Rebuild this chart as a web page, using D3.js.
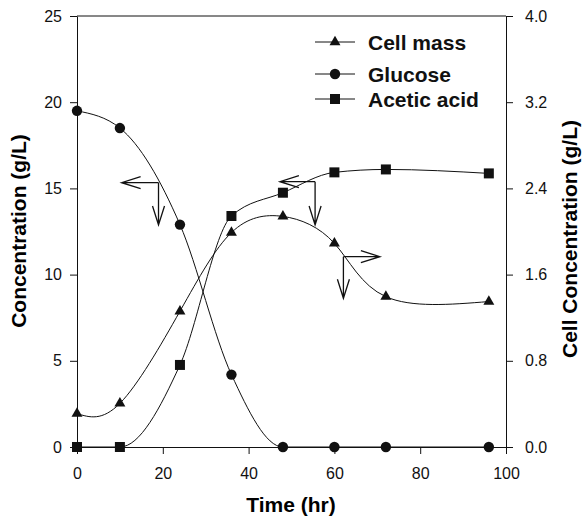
<!DOCTYPE html>
<html>
<head>
<meta charset="utf-8">
<script src="https://cdn.jsdelivr.net/npm/d3@7"></script>
<style>
    body { margin: 0; background: #fff; }
    svg { display: block; font-family: Arial, "Liberation Sans", sans-serif; }
</style>
</head>
<body>
<svg id="chart" width="582" height="520"></svg>
<script>
// Sampling times (hr)
let times = [0, 10, 24, 36, 48, 60, 72, 96];

// Left axis series (g/L)
let glucose = [19.5, 18.5, 12.9, 4.2, 0, 0, 0, 0];
let aceticAcid = [0, 0, 4.76, 13.4, 14.75, 15.93, 16.1, 15.87];

// Right axis series (g/L)
let cellMass = [0.31, 0.405, 1.26, 1.99, 2.14, 1.89, 1.395, 1.35];

let xTicks = [0, 20, 40, 60, 80, 100];
let leftTicks = [0, 5, 10, 15, 20, 25];
let rightTicks = [0, 0.8, 1.6, 2.4, 3.2, 4.0];

let legendNames = ['Cell mass', 'Glucose', 'Acetic acid'];

// Annotation arrows, in data units of the left axis: corner, then the two tips
let arrows = [
    { t: 19, y: 15.33, tipT: 10.4, tipY: 12.88 },
    { t: 55.5, y: 15.39, tipT: 47.3, tipY: 12.88 },
    { t: 62.1, y: 11.04, tipT: 70.6, tipY: 8.63 }
];

let svg = d3.select('#chart');
const INK = '#111';

let x = d3.scaleLinear().domain([0, 100]).range([77, 506]);
let yLeft = d3.scaleLinear().domain([0, 25]).range([447, 16]);
let yRight = d3.scaleLinear().domain([0, 4]).range([447, 16]);

// Axes
let styleAxis = (g) => {
    g.selectAll('path, line').attr('stroke', INK).attr('stroke-width', 1);
    g.selectAll('text').attr('fill', INK).style('font-size', '16px');
};

svg.append('g')
    .attr('transform', 'translate(0,447)')
    .call(d3.axisBottom(x).tickValues(xTicks).tickSize(7).tickSizeOuter(0).tickPadding(14))
    .call(styleAxis);

svg.append('g')
    .attr('transform', 'translate(77,0)')
    .call(d3.axisLeft(yLeft).tickValues(leftTicks).tickSize(7).tickSizeOuter(0).tickPadding(8))
    .call(styleAxis);

svg.append('g')
    .attr('transform', 'translate(506,0)')
    .call(d3.axisRight(yRight).tickValues(rightTicks).tickFormat(d3.format('.1f'))
        .tickSize(7).tickSizeOuter(0).tickPadding(12))
    .call(styleAxis);

// Top frame line
svg.append('line')
    .attr('x1', x(0)).attr('x2', x(100))
    .attr('y1', yLeft(25)).attr('y2', yLeft(25))
    .attr('stroke', INK);

// Axis titles
svg.append('text')
    .attr('transform', 'translate(19,231) rotate(-90)')
    .attr('text-anchor', 'middle').attr('dy', '0.35em')
    .style('font-size', '21px').style('font-weight', 'bold')
    .text('Concentration (g/L)');

svg.append('text')
    .attr('transform', 'translate(570,239) rotate(-90)')
    .attr('text-anchor', 'middle').attr('dy', '0.32em')
    .style('font-size', '21px').style('font-weight', 'bold')
    .text('Cell Concentration (g/L)');

svg.append('text')
    .attr('x', 291).attr('y', 505)
    .attr('text-anchor', 'middle').attr('dy', '0.35em')
    .style('font-size', '21px').style('font-weight', 'bold')
    .text('Time (hr)');

// Series
let series = [
    { name: legendNames[0], values: cellMass, y: yRight, curve: d3.curveNatural, symbol: d3.symbolTriangle, size: 52 },
    { name: legendNames[1], values: glucose, y: yLeft, curve: d3.curveMonotoneX, symbol: d3.symbolCircle, size: 85 },
    { name: legendNames[2], values: aceticAcid, y: yLeft, curve: d3.curveMonotoneX, symbol: d3.symbolSquare, size: 100 }
];

series.forEach((s) => {
    let line = d3.line()
        .x((d, i) => x(times[i]))
        .y((d) => s.y(d))
        .curve(s.curve);

    svg.append('path')
        .attr('d', line(s.values))
        .attr('fill', 'none')
        .attr('stroke', INK)
        .attr('stroke-width', 1);
});

series.forEach((s) => {
    svg.append('g').selectAll('path')
        .data(s.values)
      .enter().append('path')
        .attr('transform', (d, i) => 'translate(' + x(times[i]) + ',' + s.y(d) + ')')
        .attr('d', d3.symbol().type(s.symbol).size(s.size))
        .attr('fill', INK);
});

// Arrows
const HEAD_LENGTH = 19, HEAD_HALF = 6;
let drawArrow = (x1, y1, x2, y2) => {
    let angle = Math.atan2(y2 - y1, x2 - x1);
    let back = (sign) => [
        x2 - HEAD_LENGTH * Math.cos(angle) + sign * HEAD_HALF * Math.sin(angle),
        y2 - HEAD_LENGTH * Math.sin(angle) - sign * HEAD_HALF * Math.cos(angle)
    ];
    let b1 = back(1), b2 = back(-1);
    svg.append('path')
        .attr('d', 'M' + x1 + ',' + y1 + 'L' + x2 + ',' + y2 +
            'M' + b1 + 'L' + x2 + ',' + y2 + 'L' + b2)
        .attr('fill', 'none')
        .attr('stroke', INK)
        .attr('stroke-width', 1.3);
};

arrows.forEach((a) => {
    drawArrow(x(a.t), yLeft(a.y), x(a.tipT), yLeft(a.y));
    drawArrow(x(a.t), yLeft(a.y), x(a.t), yLeft(a.tipY));
});

// Legend
let legendRows = [42, 74, 99];
let legend = svg.append('g');
series.forEach((s, i) => {
    let row = legend.append('g').attr('transform', 'translate(0,' + legendRows[i] + ')');
    row.append('line')
        .attr('x1', 315).attr('x2', 355)
        .attr('stroke', INK).attr('stroke-width', 1);
    row.append('path')
        .attr('transform', 'translate(335,0)')
        .attr('d', d3.symbol().type(s.symbol).size(s.size))
        .attr('fill', INK);
    row.append('text')
        .attr('x', 368).attr('dy', '0.36em')
        .style('font-size', '21px').style('font-weight', 'bold')
        .attr('fill', INK)
        .text(s.name);
});
</script>
</body>
</html>
